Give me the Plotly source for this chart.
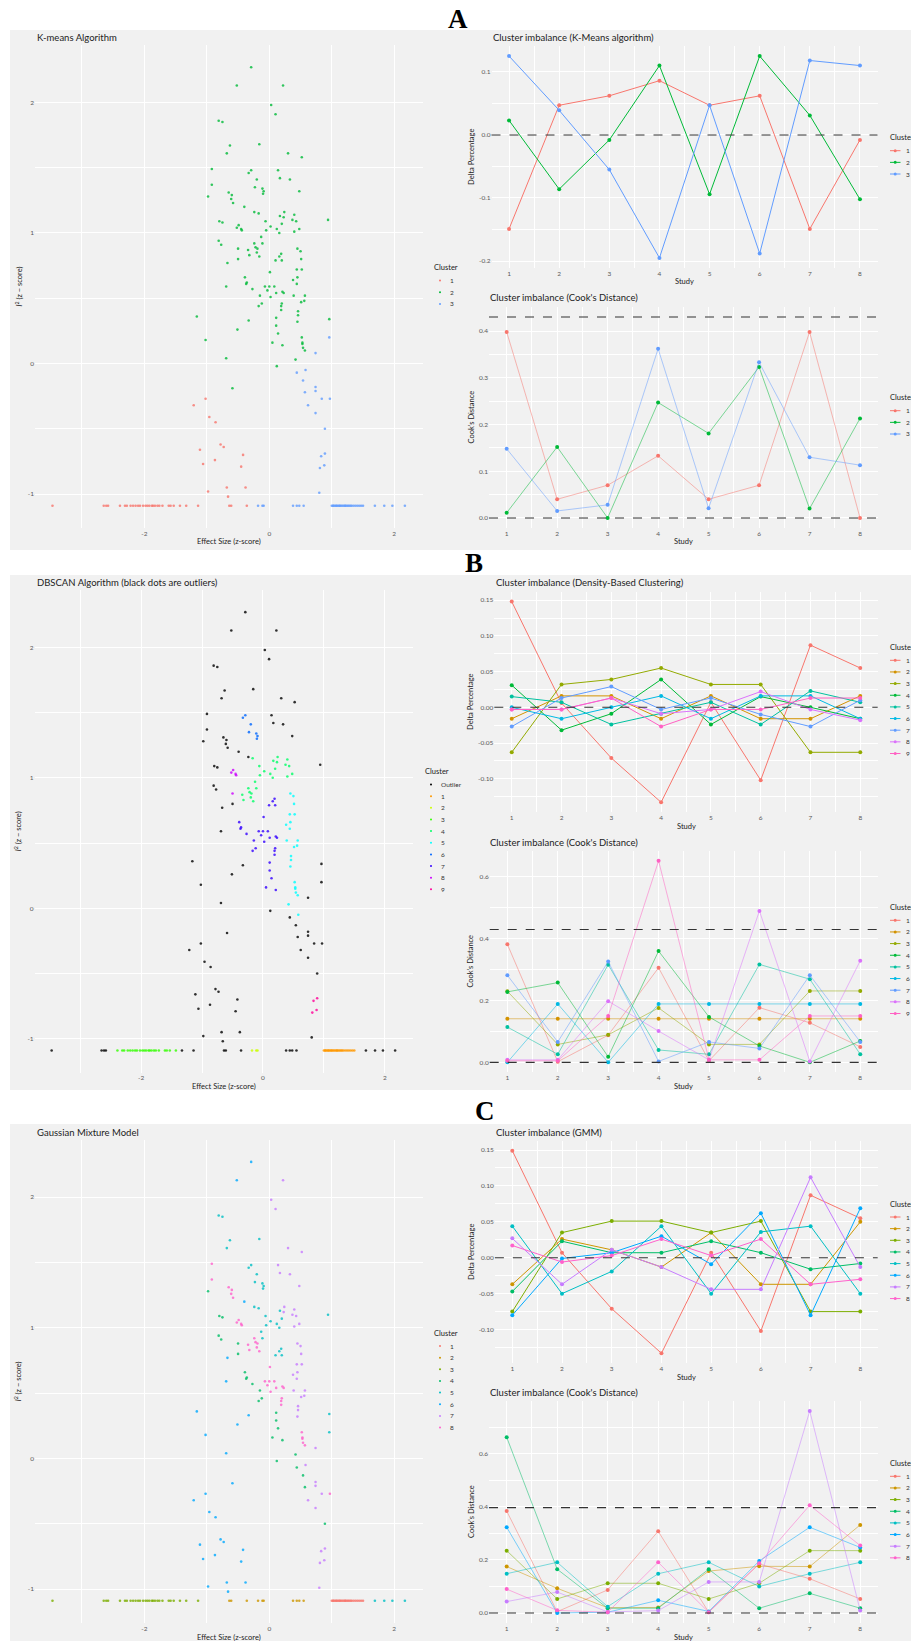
import plotly.graph_objects as go

W, H = 911, 1641
FONT = "Lato"
BG = "#F1F1F1"
TICK_COLOR = "#5a5a5a"
TEXT_COLOR = "#222222"

studies = [1, 2, 3, 4, 5, 6, 7, 8]

# ---------------------------------------------------------------------------
# Study-level points: effect size (z) vs I^2 (z) with cluster labels
# ---------------------------------------------------------------------------
# upper cloud
es_upper = [
    -0.29, -0.52, 0.22, 0.03, 0.10, -0.81, -0.75, -0.63, -0.16, -0.68,
    0.30, 0.52, -0.92, -0.29, -0.33, 0.14, 0.17, 0.33, -0.20, -0.92,
    -0.23, -0.11, -0.09, -0.10, 0.48, -0.98, -0.65, -0.60, -0.61, -0.58,
    -0.40, -0.24, -0.17, 0.24, 0.17, 0.23, 0.40, 0.37, 0.43, 0.94,
    -0.80, -0.75, -0.49, -0.52, -0.45, -0.44, -0.06, 0.02, 0.20, 0.12,
    -0.05, 0.16, 0.48, 0.40, -0.13, -0.81, -0.77, -0.24, -0.11, -0.50,
    -0.22, -0.19, -0.34, -0.32, -0.20, -0.16, 0.45, 0.50, 0.19, 0.16,
    0.51, 0.20, 0.10, -0.50, -0.67, 0.01, 0.44, 0.52, -0.39, 0.45,
    0.38, -0.36, -0.37, 0.44, -0.69, -0.07, 0.00, 0.08, -0.27, -0.03,
    0.11, 0.21, 0.23, -0.15, 0.02, 0.39, 0.57, 0.56, 0.51, -0.12,
    -0.17, 0.20, 0.19, 0.19, 0.46, 0.46, -1.16, 0.11, -0.33, 0.96,
    0.45, 0.11, -0.51, 0.14, 0.52, 0.53, 0.53, -1.02, 0.05, 0.21,
    0.54, 0.57, -0.69, 0.42, 0.12, -0.59,
]
i2_upper = [
    2.27, 2.13, 2.13, 1.98, 1.91, 1.86, 1.85, 1.67, 1.68, 1.61,
    1.61, 1.58, 1.49, 1.48, 1.46, 1.48, 1.42, 1.41, 1.41, 1.37,
    1.35, 1.34, 1.32, 1.30, 1.32, 1.28, 1.31, 1.29, 1.26, 1.23,
    1.20, 1.16, 1.15, 1.16, 1.13, 1.12, 1.14, 1.10, 1.09, 1.10,
    1.09, 1.08, 1.06, 1.04, 1.03, 1.02, 1.09, 1.05, 1.07, 1.03,
    1.02, 1.00, 1.03, 1.01, 0.97, 0.94, 0.91, 0.92, 0.92, 0.88,
    0.89, 0.88, 0.87, 0.83, 0.85, 0.82, 0.88, 0.86, 0.84, 0.82,
    0.80, 0.79, 0.79, 0.80, 0.77, 0.70, 0.72, 0.72, 0.66, 0.66,
    0.64, 0.62, 0.61, 0.61, 0.59, 0.59, 0.59, 0.59, 0.57, 0.56,
    0.54, 0.55, 0.54, 0.52, 0.51, 0.52, 0.52, 0.48, 0.47, 0.46,
    0.44, 0.46, 0.44, 0.41, 0.40, 0.37, 0.36, 0.35, 0.33, 0.34,
    0.32, 0.29, 0.26, 0.23, 0.20, 0.16, 0.15, 0.18, 0.16, 0.14,
    0.12, 0.10, 0.04, 0.03, -0.02, -0.19,
]
km_upper = [
    2, 2, 2, 2, 2, 2, 2, 2, 2, 2,
    2, 2, 2, 2, 2, 2, 2, 2, 2, 2,
    2, 2, 2, 2, 2, 2, 2, 2, 2, 2,
    2, 2, 2, 2, 2, 2, 2, 2, 2, 2,
    2, 2, 2, 2, 2, 2, 2, 2, 2, 2,
    2, 2, 2, 2, 2, 2, 2, 2, 2, 2,
    2, 2, 2, 2, 2, 2, 2, 2, 2, 2,
    2, 2, 2, 2, 2, 2, 2, 2, 2, 2,
    2, 2, 2, 2, 2, 2, 2, 2, 2, 2,
    2, 2, 2, 2, 2, 2, 2, 2, 2, 2,
    2, 2, 2, 2, 2, 2, 2, 2, 2, 2,
    2, 2, 2, 2, 2, 2, 2, 2, 2, 2,
    2, 2, 2, 2, 2, 2,
]
db_upper = [
    0, 0, 0, 0, 0, 0, 0, 0, 0, 0,
    0, 0, 0, 6, 6, 0, 0, 0, 6, 0,
    6, 6, 6, 6, 0, 0, 0, 0, 0, 0,
    0, 0, 4, 4, 4, 4, 4, 4, 4, 0,
    0, 0, 8, 8, 8, 8, 4, 4, 4, 4,
    4, 4, 4, 4, 4, 0, 0, 4, 4, 8,
    4, 4, 4, 4, 4, 4, 5, 5, 7, 7,
    5, 7, 7, 0, 0, 7, 5, 5, 7, 5,
    5, 7, 7, 5, 0, 7, 7, 7, 7, 7,
    7, 7, 7, 7, 7, 5, 5, 5, 5, 7,
    7, 7, 7, 7, 5, 5, 0, 7, 0, 0,
    5, 7, 0, 7, 5, 5, 5, 0, 7, 7,
    5, 5, 0, 5, 0, 0,
]
gm_upper = [
    6, 6, 7, 7, 7, 5, 5, 5, 5, 5,
    7, 7, 8, 5, 5, 7, 7, 7, 5, 8,
    5, 5, 5, 5, 7, 4, 8, 8, 8, 8,
    6, 5, 5, 7, 5, 7, 7, 7, 7, 5,
    4, 4, 8, 8, 8, 8, 5, 5, 5, 5,
    5, 5, 7, 7, 5, 4, 4, 8, 5, 4,
    8, 8, 8, 8, 8, 8, 7, 7, 5, 5,
    7, 5, 5, 4, 6, 8, 7, 7, 4, 7,
    7, 4, 4, 7, 6, 8, 8, 8, 4, 8,
    8, 8, 8, 4, 8, 7, 7, 7, 7, 4,
    4, 8, 8, 8, 7, 7, 6, 4, 6, 5,
    7, 4, 6, 4, 8, 8, 8, 6, 4, 4,
    8, 8, 6, 4, 4, 6,
]

# right-hand tail above the floor
es_right = [0.96, 0.74, 0.58, 0.44, 0.54, 0.74, 0.74, 0.57, 0.84, 0.97,
            0.62, 0.74, 0.89, 0.89, 0.83, 0.88, 0.81, 0.80]
i2_right = [0.20, 0.08, -0.05, -0.07, -0.13, -0.18, -0.21, -0.22, -0.27, -0.27,
            -0.32, -0.38, -0.50, -0.69, -0.71, -0.78, -0.80, -0.99]
km_right = [3, 3, 3, 3, 3, 3, 3, 3, 3, 3, 3, 3, 3, 3, 3, 3, 3, 3]
db_right = [0, 0, 5, 0, 0, 0, 0, 0, 0, 0, 0, 0, 0, 9, 9, 9, 9, 0]
gm_right = [5, 7, 7, 4, 4, 7, 7, 4, 7, 8, 7, 7, 4, 7, 7, 7, 7, 7]

# left-hand tail above the floor
es_left = [-1.02, -1.21, -0.96, -0.86, -0.78, -0.73, -1.11, -0.87, -0.42, -1.06,
           -0.45, -0.68, -0.38, -0.98, -0.66]
i2_left = [-0.27, -0.32, -0.41, -0.45, -0.62, -0.64, -0.66, -0.74, -0.70, -0.77,
           -0.79, -0.95, -0.95, -0.98, -1.02]
km_left = [1, 1, 1, 1, 1, 1, 1, 1, 1, 1, 1, 1, 1, 1, 1]
db_left = [0, 0, 0, 0, 0, 0, 0, 0, 0, 0, 0, 0, 0, 0, 0]
gm_left = [6, 6, 6, 6, 6, 6, 6, 6, 6, 6, 6, 6, 6, 6, 6]

# studies with I^2 = 0 (floor), negative effects
es_floor_neg = [
    -3.47, -2.65, -2.61, -2.58, -2.39, -2.31, -2.28, -2.22, -2.18, -2.14,
    -2.10, -2.07, -2.02, -1.98, -1.95, -1.92, -1.88, -1.86, -1.83, -1.79,
    -1.76, -1.71, -1.61, -1.58, -1.53, -1.43, -1.33, -1.14, -0.64, -0.61,
    -0.36,
]
i2_floor_neg = [
    -1.09, -1.09, -1.09, -1.09, -1.09, -1.09, -1.09, -1.09, -1.09, -1.09,
    -1.09, -1.09, -1.09, -1.09, -1.09, -1.09, -1.09, -1.09, -1.09, -1.09,
    -1.09, -1.09, -1.09, -1.09, -1.09, -1.09, -1.09, -1.09, -1.09, -1.09,
    -1.09,
]
km_floor_neg = [
    1, 1, 1, 1, 1, 1, 1, 1, 1, 1,
    1, 1, 1, 1, 1, 1, 1, 1, 1, 1,
    1, 1, 1, 1, 1, 1, 1, 1, 1, 1,
    1,
]
db_floor_neg = [
    0, 0, 0, 0, 3, 3, 3, 3, 3, 3,
    3, 3, 3, 3, 3, 3, 3, 3, 3, 3,
    3, 3, 3, 3, 3, 3, 0, 0, 0, 0,
    0,
]
gm_floor_neg = [
    3, 3, 3, 3, 3, 3, 3, 3, 3, 3,
    3, 3, 3, 3, 3, 3, 3, 3, 3, 3,
    3, 3, 3, 3, 3, 3, 3, 3, 2, 2,
    2,
]

# studies with I^2 = 0 (floor), positive side
es_floor_pos = [
    -0.18, -0.11, -0.09, 0.38, 0.44, 0.48, 0.55, 1.00, 1.02, 1.03,
    1.05, 1.07, 1.08, 1.10, 1.12, 1.13, 1.15, 1.17, 1.19, 1.21,
    1.22, 1.24, 1.26, 1.28, 1.30, 1.32, 1.35, 1.38, 1.41, 1.44,
    1.47, 1.50, 1.69, 1.84, 1.97, 2.17,
]
i2_floor_pos = [
    -1.09, -1.09, -1.09, -1.09, -1.09, -1.09, -1.09, -1.09, -1.09, -1.09,
    -1.09, -1.09, -1.09, -1.09, -1.09, -1.09, -1.09, -1.09, -1.09, -1.09,
    -1.09, -1.09, -1.09, -1.09, -1.09, -1.09, -1.09, -1.09, -1.09, -1.09,
    -1.09, -1.09, -1.09, -1.09, -1.09, -1.09,
]
km_floor_pos = [
    3, 3, 3, 3, 3, 3, 3, 3, 3, 3,
    3, 3, 3, 3, 3, 3, 3, 3, 3, 3,
    3, 3, 3, 3, 3, 3, 3, 3, 3, 3,
    3, 3, 3, 3, 3, 3,
]
db_floor_pos = [
    2, 2, 2, 0, 0, 0, 0, 1, 1, 1,
    1, 1, 1, 1, 1, 1, 1, 1, 1, 1,
    1, 1, 1, 1, 1, 1, 1, 1, 1, 1,
    1, 1, 0, 0, 0, 0,
]
gm_floor_pos = [
    2, 2, 2, 2, 2, 2, 2, 1, 1, 1,
    1, 1, 1, 1, 1, 1, 1, 1, 1, 1,
    1, 1, 1, 1, 1, 1, 1, 1, 1, 1,
    1, 1, 5, 5, 5, 5,
]

effect_z = es_upper + es_right + es_left + es_floor_neg + es_floor_pos
i2_z = i2_upper + i2_right + i2_left + i2_floor_neg + i2_floor_pos
kmeans_cluster = km_upper + km_right + km_left + km_floor_neg + km_floor_pos
dbscan_cluster = db_upper + db_right + db_left + db_floor_neg + db_floor_pos
gmm_cluster = gm_upper + gm_right + gm_left + gm_floor_neg + gm_floor_pos
assert len({len(effect_z), len(i2_z), len(kmeans_cluster),
            len(dbscan_cluster), len(gmm_cluster)}) == 1

# ---------------------------------------------------------------------------
# Per-study cluster imbalance (delta percentage) and Cook's distance
# ---------------------------------------------------------------------------
kmeans_delta = [
    [-0.149, 0.047, 0.062, 0.086, 0.047, 0.062, -0.149, -0.008],
    [0.023, -0.086, -0.008, 0.110, -0.094, 0.125, 0.031, -0.102],
    [0.125, 0.039, -0.055, -0.195, 0.047, -0.188, 0.118, 0.110],
]
kmeans_cook = [
    [0.398, 0.040, 0.070, 0.133, 0.040, 0.070, 0.398, 0.000],
    [0.011, 0.152, 0.000, 0.247, 0.181, 0.323, 0.020, 0.213],
    [0.148, 0.015, 0.028, 0.362, 0.021, 0.333, 0.130, 0.113],
]
dbscan_delta = [
    [0.148, 0.006, -0.071, -0.133, 0.007, -0.102, 0.087, 0.055],
    [-0.016, 0.016, 0.016, -0.016, 0.016, -0.016, -0.016, 0.016],
    [-0.063, 0.032, 0.039, 0.055, 0.032, 0.032, -0.063, -0.063],
    [0.031, -0.032, -0.009, 0.039, -0.024, 0.015, 0.000, -0.016],
    [0.015, 0.007, -0.024, -0.009, 0.007, -0.024, 0.023, 0.007],
    [0.000, -0.016, 0.000, 0.016, -0.016, 0.016, 0.016, -0.016],
    [-0.027, 0.013, 0.029, -0.003, 0.013, -0.010, -0.027, 0.010],
    [-0.003, -0.003, 0.013, -0.009, -0.003, 0.022, -0.003, -0.018],
    [-0.003, -0.003, 0.013, -0.027, -0.003, -0.003, 0.013, 0.013],
]
dbscan_cook = [
    [0.382, 0.002, 0.088, 0.306, 0.005, 0.177, 0.128, 0.050],
    [0.141, 0.141, 0.141, 0.141, 0.141, 0.141, 0.141, 0.141],
    [0.230, 0.058, 0.089, 0.176, 0.058, 0.058, 0.231, 0.231],
    [0.228, 0.258, 0.018, 0.360, 0.147, 0.053, 0.000, 0.069],
    [0.114, 0.026, 0.316, 0.040, 0.026, 0.317, 0.269, 0.026],
    [0.000, 0.189, 0.000, 0.189, 0.189, 0.189, 0.189, 0.189],
    [0.282, 0.066, 0.326, 0.003, 0.066, 0.045, 0.282, 0.066],
    [0.008, 0.008, 0.198, 0.101, 0.008, 0.490, 0.003, 0.329],
    [0.005, 0.005, 0.150, 0.652, 0.008, 0.008, 0.150, 0.150],
]
gmm_delta = [
    [0.149, 0.007, -0.071, -0.133, 0.007, -0.102, 0.087, 0.055],
    [-0.037, 0.026, 0.011, -0.013, 0.035, -0.037, -0.037, 0.050],
    [-0.075, 0.035, 0.051, 0.051, 0.035, 0.051, -0.075, -0.075],
    [-0.047, 0.023, 0.007, 0.007, 0.023, 0.007, -0.016, -0.008],
    [0.044, -0.050, -0.019, 0.044, -0.050, 0.036, 0.044, -0.050],
    [-0.080, -0.001, 0.007, 0.030, -0.009, 0.062, -0.080, 0.069],
    [0.027, -0.037, 0.011, -0.013, -0.044, -0.044, 0.112, -0.013],
    [0.017, -0.006, 0.003, 0.026, 0.003, 0.026, -0.037, -0.030],
]
gmm_cook = [
    [0.384, 0.005, 0.087, 0.308, 0.003, 0.185, 0.129, 0.053],
    [0.175, 0.093, 0.020, 0.021, 0.158, 0.176, 0.175, 0.332],
    [0.235, 0.053, 0.112, 0.112, 0.053, 0.112, 0.235, 0.235],
    [0.662, 0.165, 0.018, 0.018, 0.165, 0.018, 0.074, 0.018],
    [0.148, 0.191, 0.024, 0.148, 0.191, 0.100, 0.148, 0.191],
    [0.323, 0.000, 0.003, 0.048, 0.006, 0.196, 0.323, 0.247],
    [0.043, 0.079, 0.004, 0.009, 0.117, 0.117, 0.761, 0.009],
    [0.090, 0.010, 0.003, 0.191, 0.003, 0.187, 0.406, 0.254],
]

# reference lines (Cook's distance cut-off and zero)
cook_cutoff_kmeans = 0.43
cook_cutoff_dbscan = 0.43
cook_cutoff_gmm = 0.397

HUE3 = ["#F8766D", "#00BA38", "#619CFF"]
HUE8 = ["#F8766D", "#CD9600", "#7CAE00", "#00BE67", "#00BFC4", "#00A9FF", "#C77CFF", "#FF61CC"]
HUE9 = ["#F8766D", "#D39200", "#93AA00", "#00BA38", "#00C19F", "#00B9E3", "#619CFF", "#DB72FB", "#FF61C3"]
DBSCAN_COLORS = ["#000000", "#FF9900", "#CCFF00", "#33FF00", "#00FF66",
                 "#00FFFF", "#0066FF", "#3300FF", "#CC00FF", "#FF0099"]


def fx(p):
    return p / W


def fy(p):
    return 1 - p / H


def rgba(hex_color, a):
    h = hex_color.lstrip("#")
    r, g, b = int(h[0:2], 16), int(h[2:4], 16), int(h[4:6], 16)
    return f"rgba({r},{g},{b},{a})"


fig = go.Figure()
layout = {}
shapes = []
annotations = []


def ann(text, x, y, size, color=TEXT_COLOR, xanchor="left", angle=0, family=FONT):
    annotations.append(dict(
        text=text, x=fx(x), y=fy(y), xref="paper", yref="paper",
        xanchor=xanchor, yanchor="middle", showarrow=False, textangle=angle,
        borderpad=0, font=dict(family=family, size=size, color=color),
    ))


def add_axes(n, box, xr, yr, xt, xtt, xminor, yt, ytt, yminor):
    l, r, t, b = box
    s = "" if n == 1 else str(n)
    tickfont = dict(family=FONT, size=6.5, color=TICK_COLOR)
    common = dict(showgrid=True, gridcolor="white", gridwidth=1, zeroline=False,
                  showline=False, ticks="", tickfont=tickfont, fixedrange=True,
                  tickmode="array")
    layout["xaxis" + s] = dict(
        domain=[fx(l), fx(r)], range=xr, anchor="y" + s, tickvals=xt, ticktext=xtt,
        minor=dict(tickmode="array", tickvals=xminor, showgrid=True,
                   gridcolor="white", gridwidth=0.5, ticks=""),
        **common)
    layout["yaxis" + s] = dict(
        domain=[fy(b), fy(t)], range=yr, anchor="x" + s, tickvals=yt, ticktext=ytt,
        minor=dict(tickmode="array", tickvals=yminor, showgrid=True,
                   gridcolor="white", gridwidth=0.5, ticks=""),
        **common)
    return ("x" + s, "y" + s)


# gray ggplot backgrounds for the three rows
for top, bottom in [(30, 550), (575, 1090), (1124, 1641)]:
    shapes.append(dict(type="rect", xref="paper", yref="paper", layer="below",
                       x0=fx(10), x1=fx(W), y0=fy(bottom), y1=fy(top),
                       fillcolor=BG, line=dict(width=0)))

# ---------------------------------------------------------------------------
# Scatter panels
# ---------------------------------------------------------------------------
SC_XT, SC_XTT, SC_XM = [-2, 0, 2], ["-2", "0", "2"], [-3, -1, 1]
SC_YT, SC_YTT, SC_YM = [-1, 0, 1, 2], ["-1", "0", "1", "2"], [-0.5, 0.5, 1.5]
SC_XR, SC_YR = [-3.75, 2.46], [-1.26, 2.44]

scatter_panels = [
    dict(n=1, box=(35, 423, 45, 528), labels=kmeans_cluster, keys=[1, 2, 3],
         names=["1", "2", "3"], colors=HUE3, title="K-means Algorithm",
         title_y=37, leg=(433, 267.6)),
    dict(n=4, box=(34.6, 412.8, 590, 1072.6), labels=dbscan_cluster,
         keys=[0, 1, 2, 3, 4, 5, 6, 7, 8, 9],
         names=["Outlier", "1", "2", "3", "4", "5", "6", "7", "8", "9"],
         colors=DBSCAN_COLORS, title="DBSCAN Algorithm (black dots are outliers)",
         title_y=582, leg=(424, 771.5)),
    dict(n=7, box=(35, 423, 1139.7, 1623), labels=gmm_cluster,
         keys=[1, 2, 3, 4, 5, 6, 7, 8], names=[str(k) for k in range(1, 9)],
         colors=HUE8, title="Gaussian Mixture Model", title_y=1132, leg=(433, 1333)),
]

for p in scatter_panels:
    xa, ya = add_axes(p["n"], p["box"], SC_XR, SC_YR, SC_XT, SC_XTT, SC_XM,
                      SC_YT, SC_YTT, SC_YM)
    for k, color in zip(p["keys"], p["colors"]):
        xs = [x for x, c in zip(effect_z, p["labels"]) if c == k]
        ys = [y for y, c in zip(i2_z, p["labels"]) if c == k]
        fig.add_trace(go.Scatter(
            x=xs, y=ys, mode="markers", xaxis=xa, yaxis=ya, hoverinfo="skip",
            marker=dict(size=2.6, color=color, opacity=0.8, line=dict(width=0)),
        ))
    l, r, t, b = p["box"]
    ann(p["title"], 36, p["title_y"], 9.5)
    ann("Effect Size (z-score)", (l + r) / 2, b + 14, 7.5, xanchor="center")
    ann("<i>I</i><sup>2</sup> (z \u2212 score)", 18, (t + b) / 2, 7.5,
        xanchor="center", angle=-90)
    lx, ly = p["leg"]
    ann("Cluster", lx, ly, 7.5)
    for i, (name, color) in enumerate(zip(p["names"], p["colors"])):
        yy = ly + 13 + i * 11.65
        shapes.append(dict(type="circle", xref="paper", yref="paper",
                           x0=fx(lx + 6), x1=fx(lx + 8),
                           y0=fy(yy + 1.0), y1=fy(yy - 1.0),
                           fillcolor=color, line=dict(width=0)))
        ann(name, lx + 16, yy, 6.5, color="#333333")

# ---------------------------------------------------------------------------
# Line panels (delta percentage / Cook's distance)
# ---------------------------------------------------------------------------
ST_XT = studies
ST_XTT = [str(s) for s in studies]
ST_XM = [1.5, 2.5, 3.5, 4.5, 5.5, 6.5, 7.5]
ST_XR = [0.65, 8.35]

line_panels = [
    dict(n=2, box=(491.5, 877.5, 46, 268), data=kmeans_delta, colors=HUE3,
         yr=[-0.211, 0.141], yt=[-0.2, -0.1, 0.0, 0.1],
         ytt=["-0.2", "-0.1", "0.0", "0.1"], ym=[-0.15, -0.05, 0.05],
         title="Cluster imbalance (K-Means algorithm)", title_xy=(491.7, 37.3),
         ytitle="Delta Percentage", hlines=[0.0], faded=False, leg=137.7),
    dict(n=3, box=(489, 877.7, 307, 528), data=kmeans_cook, colors=HUE3,
         yr=[-0.0215, 0.4515], yt=[0.0, 0.1, 0.2, 0.3, 0.4],
         ytt=["0.0", "0.1", "0.2", "0.3", "0.4"],
         ym=[0.05, 0.15, 0.25, 0.35, 0.45],
         title="Cluster imbalance (Cook's Distance)", title_xy=(489, 297.3),
         ytitle="Cook's Distance", hlines=[0.0, cook_cutoff_kmeans], faded=True,
         leg=397.7),
    dict(n=5, box=(494.3, 877.7, 591.6, 812.3), data=dbscan_delta, colors=HUE9,
         yr=[-0.147, 0.162], yt=[-0.10, -0.05, 0.0, 0.05, 0.10, 0.15],
         ytt=["-0.10", "-0.05", "0.00", "0.05", "0.10", "0.15"],
         ym=[-0.125, -0.075, -0.025, 0.025, 0.075, 0.125],
         title="Cluster imbalance (Density-Based Clustering)", title_xy=(495, 582.7),
         ytitle="Delta Percentage", hlines=[0.0], faded=False, leg=647.3),
    dict(n=6, box=(489.7, 877.9, 850.8, 1072.4), data=dbscan_cook, colors=HUE9,
         yr=[-0.0326, 0.6846], yt=[0.0, 0.2, 0.4, 0.6],
         ytt=["0.0", "0.2", "0.4", "0.6"], ym=[0.1, 0.3, 0.5],
         title="Cluster imbalance (Cook's Distance)", title_xy=(489, 842.3),
         ytitle="Cook's Distance", hlines=[0.0, cook_cutoff_dbscan], faded=True,
         leg=907.3),
    dict(n=8, box=(494.9, 877.7, 1140.7, 1363.3), data=gmm_delta, colors=HUE8,
         yr=[-0.147, 0.163], yt=[-0.10, -0.05, 0.0, 0.05, 0.10, 0.15],
         ytt=["-0.10", "-0.05", "0.00", "0.05", "0.10", "0.15"],
         ym=[-0.125, -0.075, -0.025, 0.025, 0.075, 0.125],
         title="Cluster imbalance (GMM)", title_xy=(495, 1132.7),
         ytitle="Delta Percentage", hlines=[0.0], faded=False, leg=1204),
    dict(n=9, box=(489, 877.9, 1400.9, 1623.1), data=gmm_cook, colors=HUE8,
         yr=[-0.038, 0.799], yt=[0.0, 0.2, 0.4, 0.6, 0.8],
         ytt=["0.0", "0.2", "0.4", "0.6", "0.8"], ym=[0.1, 0.3, 0.5, 0.7],
         title="Cluster imbalance (Cook's Distance)", title_xy=(489, 1392.7),
         ytitle="Cook's Distance", hlines=[0.0, cook_cutoff_gmm], faded=True,
         leg=1463.3),
]

for p in line_panels:
    xa, ya = add_axes(p["n"], p["box"], ST_XR, p["yr"], ST_XT, ST_XTT, ST_XM,
                      p["yt"], p["ytt"], p["ym"])
    for hv in p["hlines"]:
        shapes.append(dict(type="line", xref=xa + " domain", yref=ya,
                           x0=0, x1=1, y0=hv, y1=hv,
                           line=dict(color="#333333", width=1.1, dash="dash")))
    for values, color in zip(p["data"], p["colors"]):
        fig.add_trace(go.Scatter(
            x=studies, y=values, mode="lines+markers", xaxis=xa, yaxis=ya,
            hoverinfo="skip",
            line=dict(color=rgba(color, 0.5) if p["faded"] else color, width=1),
            marker=dict(size=4, color=color, line=dict(width=0)),
        ))
    l, r, t, b = p["box"]
    tx, ty = p["title_xy"]
    ann(p["title"], tx, ty, 9.5)
    ann("Study", (l + r) / 2, b + 14, 7.5, xanchor="center")
    ann(p["ytitle"], 471, (t + b) / 2, 7.5, xanchor="center", angle=-90)
    ly = p["leg"]
    ann("Cluster", 889, ly, 7.5)
    for i, color in enumerate(p["colors"]):
        yy = ly + 13 + i * 11.65
        shapes.append(dict(type="line", xref="paper", yref="paper",
                           x0=fx(890), x1=fx(900.5), y0=fy(yy), y1=fy(yy),
                           line=dict(color=color, width=1)))
        shapes.append(dict(type="circle", xref="paper", yref="paper",
                           x0=fx(893.7), x1=fx(896.7),
                           y0=fy(yy + 1.5), y1=fy(yy - 1.5),
                           fillcolor=color, line=dict(width=0)))
        ann(str(i + 1), 904.5, yy, 6.5, color="#333333")

# panel letters
ann("<b>A</b>", 457.5, 18.5, 27, color="#000000", xanchor="center",
    family="Liberation Serif")
ann("<b>B</b>", 474, 563, 27, color="#000000", xanchor="center",
    family="Liberation Serif")
ann("<b>C</b>", 485, 1111, 27, color="#000000", xanchor="center",
    family="Liberation Serif")

fig.update_layout(
    width=W, height=H,
    margin=dict(l=0, r=0, t=0, b=0, autoexpand=False),
    paper_bgcolor="white", plot_bgcolor=BG,
    showlegend=False,
    shapes=shapes, annotations=annotations,
    **layout,
)

fig.write_html("out.html")
